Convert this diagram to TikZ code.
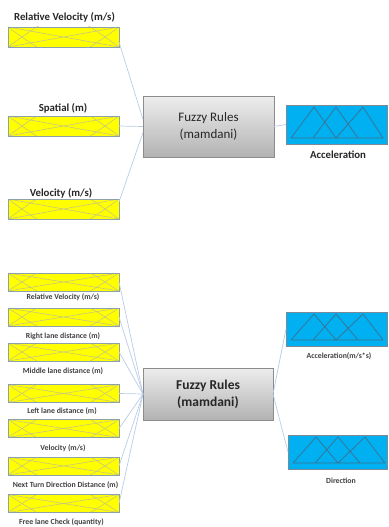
\documentclass[tikz,border=0pt]{standalone}
\usepackage{fontspec}
\setmainfont{Carlito}
\usetikzlibrary{calc}
\definecolor{inyellow}{HTML}{FFFF00}
\definecolor{inborder}{HTML}{8EA0A8}
\definecolor{inpattern}{HTML}{C8C87E}
\definecolor{outblue}{HTML}{00B0F0}
\definecolor{outborder}{HTML}{7C8A98}
\definecolor{triline}{HTML}{3F6F8F}
\definecolor{linkblue}{HTML}{B8CCE8}
\definecolor{rulegray}{HTML}{8C8C8C}
\definecolor{labeltext}{HTML}{262626}
\tikzset{
  inbox/.style={draw=inborder, line width=0.8pt, fill=inyellow,
    minimum width=111pt, inner sep=0pt, outer sep=0pt,
    path picture={
      \draw[inpattern, line width=0.6pt]
        (path picture bounding box.south west) -- (path picture bounding box.north east)
        (path picture bounding box.north west) -- (path picture bounding box.south east);
      \draw[inpattern, line width=0.6pt]
        (path picture bounding box.south west)
          .. controls ($(path picture bounding box.south)!2!(path picture bounding box.north)$)
          .. (path picture bounding box.south east);
      \draw[inpattern, line width=0.6pt]
        (path picture bounding box.north west)
          .. controls ($(path picture bounding box.north)!2!(path picture bounding box.south)$)
          .. (path picture bounding box.north east);
    }},
  outbox/.style={draw=outborder, line width=0.8pt, fill=outblue,
    inner sep=0pt, outer sep=0pt,
    path picture={
      \draw[triline, line width=0.7pt, line join=round]
        ([shift={(5,-6)}]path picture bounding box.south west)
          -- ([shift={(97,-6)}]path picture bounding box.south west)
        ([shift={(5,-6)}]path picture bounding box.south west)
          -- ([shift={(28,2)}]path picture bounding box.north west)
          -- ([shift={(50,-6)}]path picture bounding box.south west)
        ([shift={(27,-6)}]path picture bounding box.south west)
          -- ([shift={(50,2)}]path picture bounding box.north west)
          -- ([shift={(72,-6)}]path picture bounding box.south west)
        ([shift={(50,-6)}]path picture bounding box.south west)
          -- ([shift={(77,2)}]path picture bounding box.north west)
          -- ([shift={(97,-6)}]path picture bounding box.south west);
    }},
  rulebox/.style={draw=rulegray, line width=0.8pt,
    top color=black!7, bottom color=black!30,
    inner sep=0pt, outer sep=0pt, align=center, text=labeltext},
  biglabel/.style={font=\bfseries\fontsize{10.8}{12}\selectfont, text=labeltext, inner sep=0pt},
  smalllabel/.style={font=\bfseries\fontsize{7.8}{9}\selectfont, text=black!75, inner sep=0pt},
  link/.style={draw=linkblue, line width=0.7pt}
}
\begin{document}
\begin{tikzpicture}[x=1pt, y=-1pt]
  \useasboundingbox (0,0) rectangle (388,527);

  % ---- single-output controller ----
  \node[inbox, minimum height=20pt] (a1) at (63.5,37) {};
  \node[inbox, minimum height=20pt] (a2) at (63.5,126) {};
  \node[inbox, minimum height=20pt] (a3) at (63.5,209) {};
  \node[biglabel] (la1) at (64.5,17) {Relative Velocity (m/s)};
  \node[biglabel] (la2) at (63,108) {Spatial (m)};
  \node[biglabel] (la3) at (61,193) {Velocity (m/s)};

  \node[rulebox, minimum width=131pt, minimum height=61pt,
        font=\fontsize{13}{17}\selectfont] (r1) at (208.5,126.5) {Fuzzy Rules\\(mamdani)};

  \node[outbox, minimum width=101pt, minimum height=39pt] (o1) at (336.5,124.5) {};
  \node[biglabel] (lo1) at (338,155) {Acceleration};

  \draw[link] ([yshift=-5pt]a1.east) -- ([yshift=7pt]r1.west);
  \draw[link] (a2.east) -- (r1.west);
  \draw[link] ([yshift=7pt]a3.east) -- ([yshift=-6pt]r1.west);
  \draw[link] (r1.east) -- (o1.west);

  % ---- two-output controller ----
  \node[inbox, minimum height=18pt] (b1) at (63.5,282) {};
  \node[inbox, minimum height=18pt] (b2) at (63.5,317) {};
  \node[inbox, minimum height=18pt] (b3) at (63.5,352) {};
  \node[inbox, minimum height=18pt] (b4) at (63.5,393.5) {};
  \node[inbox, minimum height=18pt] (b5) at (63.5,428.5) {};
  \node[inbox, minimum height=18pt] (b6) at (63.5,466) {};
  \node[inbox, minimum height=18pt] (b7) at (63.5,503.5) {};
  \node[smalllabel] (lb1) at (63,297) {Relative Velocity (m/s)};
  \node[smalllabel] (lb2) at (63,336) {Right lane distance (m)};
  \node[smalllabel] (lb3) at (63,371) {Middle lane distance (m)};
  \node[smalllabel] (lb4) at (62,411) {Left lane distance (m)};
  \node[smalllabel] (lb5) at (63,448) {Velocity (m/s)};
  \node[smalllabel] (lb6) at (65.5,485) {Next Turn Direction Distance (m)};
  \node[smalllabel] (lb7) at (61.5,522) {Free lane Check (quantity)};

  \node[rulebox, minimum width=130pt, minimum height=52pt,
        font=\bfseries\fontsize{13.5}{17}\selectfont] (r2) at (208,394) {Fuzzy Rules\\(mamdani)};

  \node[outbox, minimum width=101pt, minimum height=34pt] (o2) at (336.5,329) {};
  \node[outbox, minimum width=99pt, minimum height=34pt] (o3) at (337.5,452) {};
  \node[smalllabel] (lo2) at (339,356) {Acceleration(m/s*s)};
  \node[smalllabel] (lo3) at (341,481) {Direction};

  \foreach \b in {b1,b2,b3,b4,b5,b6,b7}
    \draw[link] (\b.east) -- (r2.west);
  \draw[link] (r2.east) -- (o2.west);
  \draw[link] (r2.east) -- (o3.west);
\end{tikzpicture}
\end{document}
